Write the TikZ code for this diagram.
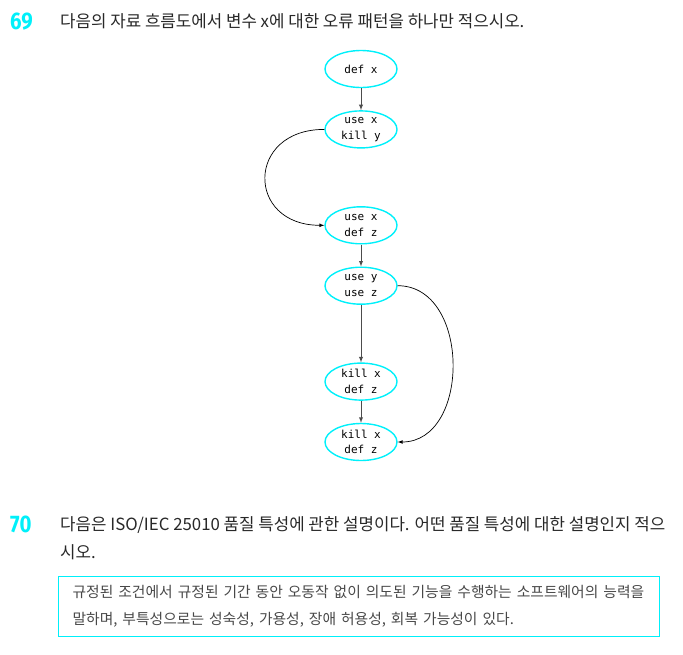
\documentclass[tikz,border=0pt]{standalone}
\usepackage{fontspec}
\usepackage{tikz}
\usetikzlibrary{positioning,shapes.geometric,arrows}
\newfontfamily\krfont{Noto Sans CJK KR}
\newfontfamily\numfont[FakeStretch=0.85]{Fira Sans}
\newfontfamily\codefont{DejaVu Sans Mono}
\definecolor{qcyan}{RGB}{0,240,250}
\definecolor{txt}{RGB}{40,40,40}
\tikzset{
  vx/.style={ellipse, minimum width=72pt, minimum height=37pt, inner sep=0pt, align=center, draw=qcyan, line width=1.4pt, font=\codefont\fontsize{11}{15.5}\selectfont},
  qnum/.style={anchor=base west, inner sep=0pt, text=qcyan, font=\numfont\bfseries\fontsize{24}{24}\selectfont},
  qtxt/.style={anchor=base west, inner sep=0pt, text=txt, font=\krfont\fontsize{16.8}{28}\selectfont},
  ans/.style={rectangle, anchor=north west, draw=qcyan, line width=1.2pt, minimum width=601pt, minimum height=60pt, inner xsep=14pt, text width=573pt, align=left, text=txt!85, font=\krfont\fontsize{14.8}{27}\selectfont},
  fl/.style={->, >=latex, draw=black!70, line width=0.9pt},
  skipedge/.style={->, >=latex, line width=0.7pt},
  node distance=22pt
}
\begin{document}
\begin{tikzpicture}[x=1pt,y=1pt]
	\useasboundingbox (0,0) rectangle (683,-654);
	% question 69
	\node[qnum] (n69) at (10,-29) {69};
	\node[qtxt] (q69) at (60,-27) {다음의 자료 흐름도에서 변수 x에 대한 오류 패턴을 하나만 적으시오.};
	
	\node[vx] (defx) at (361,-69) {def x};
	\node[vx, below=of defx] (usex) {use x\\kill y};
	\node[vx, below=57.5pt of usex] (usexz) {use x\\def z};
	\node[vx, below=of usexz] (useyz) {use y\\use z};
	\node[vx, below=57.5pt of useyz] (killx) {kill x\\def z};
	\node[vx, below=of killx] (killxb) {kill x\\def z};
	
	\draw[fl] (defx) -- (usex);
	\draw[fl] (usexz) -- (useyz);
	\draw[fl] (useyz) -- (killx);
	\draw[fl] (killx) -- (killxb);
	\draw[skipedge] (usex.west) to[out=180, in=180, looseness=2.1] (usexz.west);
	\draw[skipedge] (useyz.east) to[out=0, in=0, looseness=1.2] (killxb.east);
	
	% question 70
	\node[qnum] (n70) at (10,-532) {70};
	\node[qtxt] (q70) at (60,-530) {다음은 ISO/IEC 25010 품질 특성에 관한 설명이다. 어떤 품질 특성에 대한 설명인지 적으};
	\node[qtxt] (q70b) at (60,-558) {시오.};
	\node[ans] (box) at (58,-576) {규정된 조건에서 규정된 기간 동안 오동작 없이 의도된 기능을 수행하는 소프트웨어의 능력을\\말하며, 부특성으로는 성숙성, 가용성, 장애 허용성, 회복 가능성이 있다.};
\end{tikzpicture}
\end{document}
